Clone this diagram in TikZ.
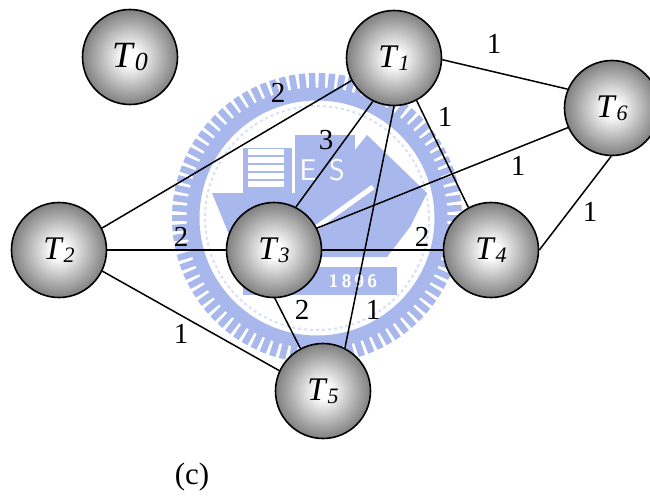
\documentclass[tikz,border=0pt]{standalone}
\usepackage{fontspec}
\setmainfont{Liberation Serif}
\usetikzlibrary{positioning}
\definecolor{logoblue}{RGB}{168,184,236}
\pgfdeclareradialshading{tball}{\pgfpoint{0bp}{0bp}}{color(0bp)=(white);color(4bp)=(white);color(25bp)=(black!50);color(50bp)=(black!50)}
\newcommand{\tname}[2]{\textit{T}\raisebox{-3pt}{\fontsize{#2}{#2}\selectfont\textit{#1}}\hspace{8pt}}
\tikzset{
  tball/.style={circle,draw=black,line width=1.6pt,shading=tball,minimum size=95pt,inner sep=0pt,font=\fontsize{33}{33}\selectfont},
  weight/.style={font=\fontsize{29}{29}\selectfont,inner sep=0pt},
  link/.style={line width=1.5pt},
  logotext/.style={white,inner sep=0pt,font=\sffamily\bfseries}
}
\begin{document}
\begin{tikzpicture}[x=1pt,y=-1pt]
\useasboundingbox (0,0) rectangle (650,495);
%% Watermark: toothed ring
\coordinate (logocen) at (317,218);
\foreach \a in {0,4,...,356}
  \draw[logoblue,line width=6.5pt] ([shift={(\a:125)}]logocen) -- ([shift={(\a:145)}]logocen);
\draw[logoblue,line width=13pt] (logocen) circle (124);
\draw[logoblue!45,line width=2pt,dashed] (logocen) circle (112);
%% Watermark: ship and building
\fill[logoblue] (212,193) -- (427,193) -- (410,227) -- (387,257) -- (257,257) -- (230,237) -- cycle;
\fill[logoblue] (295,135) -- (355,135) -- (355,193) -- (295,193) -- cycle;
\fill[logoblue] (355,150) -- (367,135) -- (427,193) -- (355,193) -- cycle;
\fill[logoblue] (243,148) rectangle (292,193);
\foreach \y in {152,160,168,176,184}
  \draw[white,line width=5.5pt] (248,\y) -- (284,\y);
\draw[white,line width=5pt] (317,227) -- (373,187);
\node[logotext,font=\fontsize{30}{30}\selectfont\sffamily] (logoe) at (308,170) {E};
\node[logotext,font=\fontsize{30}{30}\selectfont\sffamily] (logos) at (337,170) {S};
\fill[logoblue] (243,267) rectangle (397,295);
\node[logotext,font=\fontsize{18}{18}\selectfont\sffamily\bfseries] (logoyear) at (353,281) {1\,8\,9\,6};
%% Task nodes
\node[tball,font=\fontsize{37}{37}\selectfont] (T0) at (130,57) {\tname{0}{26}};
\node[tball] (T1) at (394,58) {\tname{1}{22}};
\node[tball] (T2) at (59,250) {\tname{2}{22}};
\node[tball] (T3) at (274,250) {\tname{3}{22}};
\node[tball] (T4) at (491,250) {\tname{4}{22}};
\node[tball] (T5) at (323,391) {\tname{5}{22}};
\node[tball] (T6) at (612,108) {\tname{6}{22}};
%% Links
\draw[link] (T1.208) -- (T2.27);
\draw[link] (T1.244) -- (T3.63);
\draw[link] (T1.-62) -- (T4.118);
\draw[link] (T1.-90) -- (T5.63);
\draw[link] (T1.-2) -- (T6.157);
\draw[link] (T2.east) -- (T3.west);
\draw[link] (T2.-26) -- (T5.155);
\draw[link] (T3.east) -- (T4.west);
\draw[link] (T3.-89) -- (T5.118);
\draw[link] (T3.27) -- (T6.204);
\draw[link] (T4.east) -- (T6.269);
%% Weights
\node[weight] (w12) at (278,93) {2};
\node[weight] (w13) at (326,140) {3};
\node[weight] (w14) at (445,117) {1};
\node[weight] (w15) at (373,310) {1};
\node[weight] (w16) at (494,44) {1};
\node[weight] (w23) at (181,237) {2};
\node[weight] (w25) at (181,334) {1};
\node[weight] (w34) at (422,237) {2};
\node[weight] (w35) at (302,310) {2};
\node[weight] (w36) at (518,166) {1};
\node[weight] (w46) at (590,212) {1};
\node[weight,font=\fontsize{31}{31}\selectfont] (caption) at (192,477) {(c)};
\end{tikzpicture}
\end{document}
